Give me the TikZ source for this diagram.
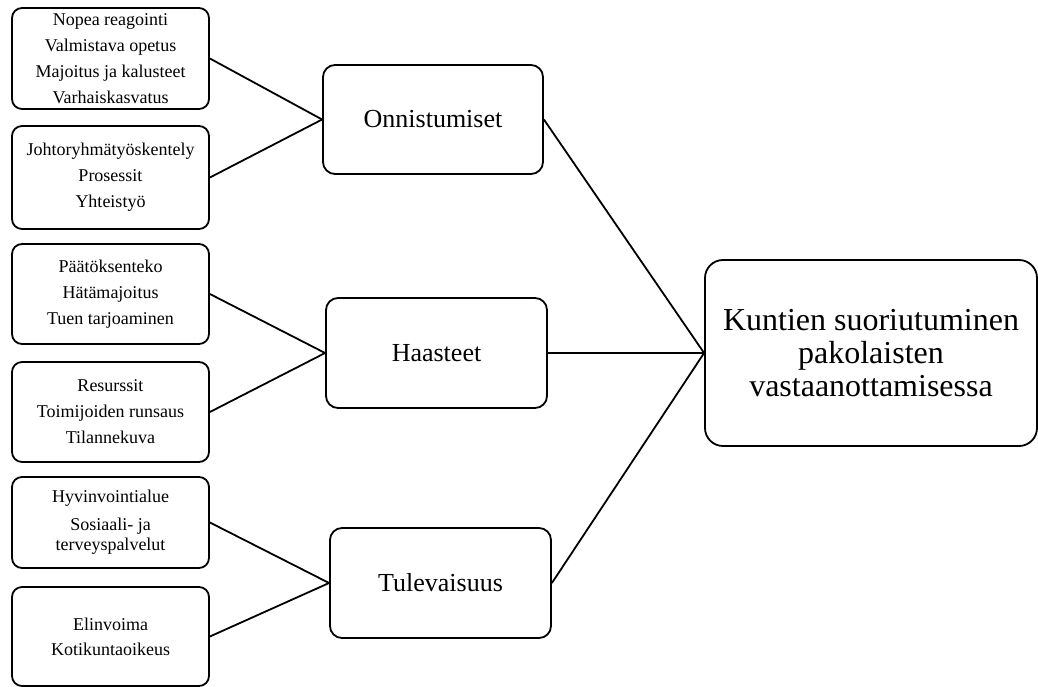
\documentclass[tikz,border=0pt]{standalone}
\usepackage{fontspec}
\setmainfont{Liberation Serif}
\begin{document}
\begin{tikzpicture}[x=1pt,y=-1pt,
  every path/.style={line width=1.8pt},
  leftbox/.style={draw, rounded corners=10pt, inner sep=0pt, align=center,
    minimum width=197pt, font=\fontsize{18}{20}\selectfont},
  midbox/.style={draw, rounded corners=12pt, inner sep=0pt, align=center,
    minimum width=221pt, minimum height=110pt, font=\fontsize{26}{30}\selectfont},
  rightbox/.style={draw, rounded corners=18pt, inner sep=0pt, align=center,
    minimum width=332pt, minimum height=186pt, font=\fontsize{32}{33}\selectfont},
  link/.style={draw, line width=1.8pt}]
\useasboundingbox (0,0) rectangle (1038,687);
\node[leftbox, minimum height=101pt] (b1) at (110.5,58.5)
  {Nopea reagointi\\[6pt]Valmistava opetus\\[6pt]Majoitus ja kalusteet\\[6pt]Varhaiskasvatus};
\node[leftbox, minimum height=103pt] (b2) at (110.5,177.5)
  {Johtoryhmätyöskentely\\[6pt]Prosessit\\[6pt]Yhteistyö};
\node[leftbox, minimum height=100pt] (b3) at (110.5,294)
  {Päätöksenteko\\[6pt]Hätämajoitus\\[6pt]Tuen tarjoaminen};
\node[leftbox, minimum height=100pt] (b4) at (110.5,412)
  {Resurssit\\[6pt]Toimijoiden runsaus\\[6pt]Tilannekuva};
\node[leftbox, minimum height=91pt] (b5) at (110.5,522.5)
  {Hyvinvointialue\\[8pt]Sosiaali- ja\\terveyspalvelut};
\node[leftbox, minimum height=99pt] (b6) at (110.5,636.5)
  {Elinvoima\\[5pt]Kotikuntaoikeus};
\node[midbox, minimum width=220pt, minimum height=109pt] (m1) at (433,119.5) {Onnistumiset};
\node[midbox] (m2) at (436.5,353) {Haasteet};
\node[midbox] (m3) at (440.5,583) {Tulevaisuus};
\node[rightbox] (r) at (871,353) {Kuntien suoriutuminen\\pakolaisten\\vastaanottamisessa};
\draw[link] (b1.east) -- (m1.west);
\draw[link] (b2.east) -- (m1.west);
\draw[link] (b3.east) -- (m2.west);
\draw[link] (b4.east) -- (m2.west);
\draw[link] (b5.east) -- (m3.west);
\draw[link] (b6.east) -- (m3.west);
\draw[link] (m1.east) -- (r.west);
\draw[link] (m2.east) -- (r.west);
\draw[link] (m3.east) -- (r.west);
\end{tikzpicture}
\end{document}
